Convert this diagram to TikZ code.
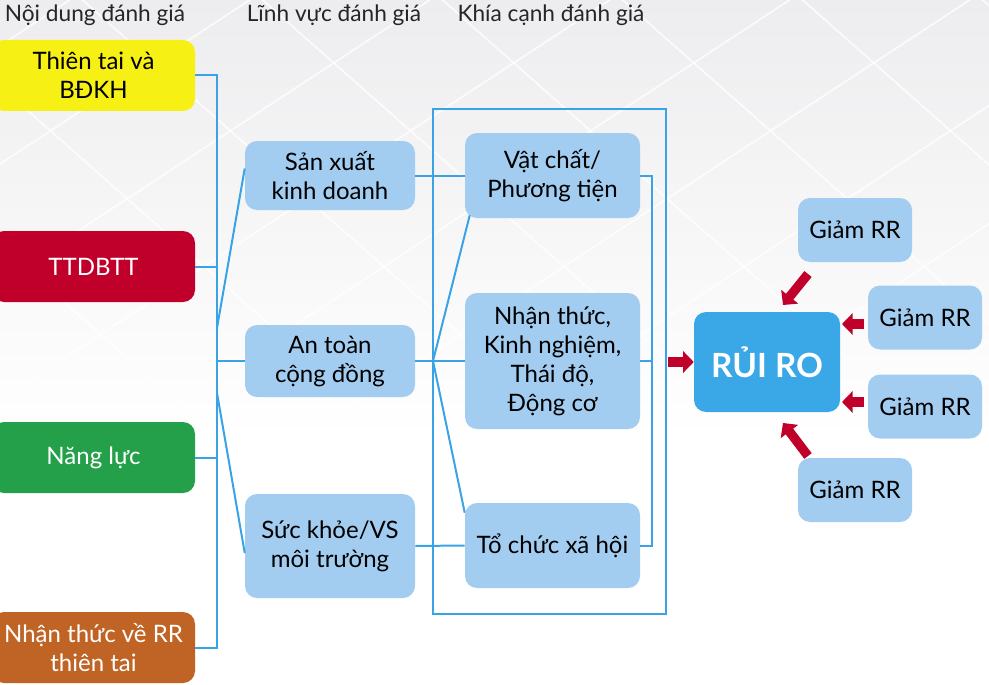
\documentclass[tikz,border=0pt]{standalone}
\usepackage{fontspec}
\setmainfont{Lato}
\usetikzlibrary{arrows.meta,calc}
\definecolor{cyel}{HTML}{F6F014}
\definecolor{cred}{HTML}{C0002A}
\definecolor{cgreen}{HTML}{25A04A}
\definecolor{cbrown}{HTML}{C06425}
\definecolor{clight}{HTML}{A3CDF0}
\definecolor{crisk}{HTML}{3AA8E6}
\definecolor{cline}{HTML}{3AA3E6}
\definecolor{carrow}{HTML}{C0002A}
\definecolor{cbg}{HTML}{EDEDEF}
\begin{document}
\begin{tikzpicture}[x=0.75pt,y=-0.75pt,
  txt/.style={font=\fontsize{18}{21.75}\selectfont},
  head/.style={font=\fontsize{17}{20}\selectfont, text=black!85, inner sep=0pt},
  box/.style={txt, rounded corners=9pt, inner sep=0pt, align=center},
  lbox/.style={box, minimum width=152.25pt, minimum height=53.25pt},
  mbox/.style={box, fill=clight, minimum width=127.5pt},
  kbox/.style={box, fill=clight, minimum width=131.25pt},
  gbox/.style={box, fill=clight, minimum width=85.5pt, minimum height=48pt},
  conn/.style={draw=cline, line width=1.5pt},
  redarrow/.style={draw=carrow, line width=7pt, -{Triangle[length=8pt,width=16pt]}}
]
\useasboundingbox (0,0) rectangle (989,685);
\clip (0,0) rectangle (989,685);
% background
\fill[white] (0,0) rectangle (989,685);
\shade[top color=cbg, bottom color=white] (0,0) rectangle (989,440);
\begin{scope}[white, line width=1.2pt, opacity=0.8]
  \foreach \i in {-600,-420,...,1200} {
    \draw (\i,440) -- (\i+700,-20);
  }
  \foreach \i in {-300,-120,...,1400} {
    \draw (\i,-20) -- (\i+520,440);
  }
\end{scope}

% headers
\node[head] (h1) at (95,15) {Nội dung đánh giá};
\node[head] (h2) at (334,15) {Lĩnh vực đánh giá};
\node[head] (h3) at (551,15) {Khía cạnh đánh giá};

% left column
\node[lbox, fill=cyel, text=black] (n1) at (93.5,75.5) {Thiên tai và\\BĐKH};
\node[lbox, fill=cred, text=white] (n2) at (93.5,266.5) {TTDBTT};
\node[lbox, fill=cgreen, text=white] (n3) at (93.5,457.5) {Năng lực};
\node[lbox, fill=cbrown, text=white] (n4) at (93.5,647.5) {Nhận thức về RR\\thiên tai};

% middle column
\node[mbox, minimum height=51.75pt] (m1) at (330,175.5) {Sản xuất\\kinh doanh};
\node[mbox, minimum height=54pt] (m2) at (330,361) {An toàn\\cộng đồng};
\node[mbox, minimum height=78pt] (m3) at (330,546) {Sức khỏe/VS\\môi trường};

% right column
\node[draw=cline, line width=1.5pt, minimum width=174.75pt, minimum height=378.75pt, inner sep=0pt] (outer) at (549.5,361.5) {};
\node[kbox, minimum height=63.75pt] (k1) at (552.5,175.5) {Vật chất/\\Phương tiện};
\node[kbox, minimum height=102pt] (k2) at (552.5,361) {Nhận thức,\\Kinh nghiệm,\\Thái độ,\\Động cơ};
\node[kbox, minimum height=63.75pt] (k3) at (552.5,545.5) {Tổ chức xã hội};

% risk
\node[box, fill=crisk, text=white, minimum width=109.5pt, minimum height=75pt,
  font=\fontsize{25}{29}\selectfont\bfseries] (rr) at (767,362) {RỦI RO};
\node[gbox] (g1) at (855,230) {Giảm RR};
\node[gbox] (g2) at (925,317.5) {Giảm RR};
\node[gbox] (g3) at (925,406.5) {Giảm RR};
\node[gbox] (g4) at (855,490) {Giảm RR};

% left bus
\coordinate (bt) at (217,75.5);
\coordinate (bb) at (217,647.5);
\draw[conn] (n1.east) -- (bt) -- (bb) -- (n4.east);
\draw[conn] (n2.east) -- (n2.east -| bt);
\draw[conn] (n3.east) -- (n3.east -| bt);
\coordinate (f1) at (217,328);
\coordinate (f2) at (217,361);
\coordinate (f3) at (217,393);
\draw[conn] (f1) -- ($(m1.west)+(0,-7)$);
\draw[conn] (f2) -- (m2.west);
\draw[conn] (f3) -- ($(m3.west)+(0,7)$);

% middle to right
\draw[conn] (m1.east) -- (k1.west);
\draw[conn] (m2.east) -- (k2.west);
\draw[conn] (m3.east) -- (k3.west);
\coordinate (fk) at (433,361);
\draw[conn] (fk) -- ($(k1.south west)+(5,-3)$);
\draw[conn] (fk) -- ($(k3.north west)+(0,10)$);

% right bus
\coordinate (rt) at (652,175.5);
\coordinate (rb) at (652,545.5);
\draw[conn] (k1.east) -- (rt) -- (rb) -- (k3.east);
\draw[conn] (k2.east) -- (k2.east -| rt);

% red arrows
\coordinate (a0) at (668,362);
\coordinate (a1s) at (808,274);
\coordinate (a1e) at (783,305);
\coordinate (a2s) at (864,324);
\coordinate (a2e) at (842,324);
\coordinate (a3s) at (864,402);
\coordinate (a3e) at (842,402);
\coordinate (a4s) at (808,456);
\coordinate (a4e) at (783,423);
\draw[redarrow] (a0) -- (rr.west);
\draw[redarrow] (a1s) -- (a1e);
\draw[redarrow] (a2s) -- (a2e);
\draw[redarrow] (a3s) -- (a3e);
\draw[redarrow] (a4s) -- (a4e);
\end{tikzpicture}
\end{document}
